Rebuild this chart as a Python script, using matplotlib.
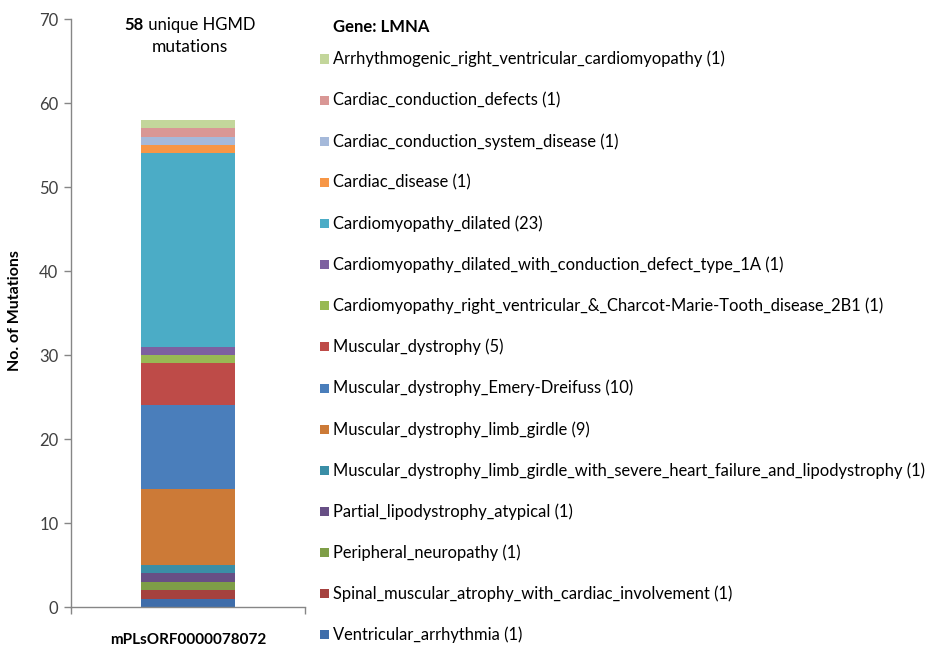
import matplotlib
matplotlib.use("Agg")
import matplotlib.pyplot as plt
from matplotlib.patches import Rectangle

plt.rcParams['font.family'] = ['Lato', 'DejaVu Sans']

gene = "LMNA"
sample = "mPLsORF0000078072"
total_label = "58"

# Diseases in legend order (top to bottom); the stack is drawn bottom-up from the end of the list
diseases = [
    "Arrhythmogenic_right_ventricular_cardiomyopathy",
    "Cardiac_conduction_defects",
    "Cardiac_conduction_system_disease",
    "Cardiac_disease",
    "Cardiomyopathy_dilated",
    "Cardiomyopathy_dilated_with_conduction_defect_type_1A",
    "Cardiomyopathy_right_ventricular_&_Charcot-Marie-Tooth_disease_2B1",
    "Muscular_dystrophy",
    "Muscular_dystrophy_Emery-Dreifuss",
    "Muscular_dystrophy_limb_girdle",
    "Muscular_dystrophy_limb_girdle_with_severe_heart_failure_and_lipodystrophy",
    "Partial_lipodystrophy_atypical",
    "Peripheral_neuropathy",
    "Spinal_muscular_atrophy_with_cardiac_involvement",
    "Ventricular_arrhythmia",
]
counts = [1, 1, 1, 1, 23, 1, 1, 5, 10, 9, 1, 1, 1, 1, 1]
colors = [
    "#C3D69B", "#D99795", "#A5B9DA", "#F79646", "#4BACC6",
    "#7D60A0", "#98B954", "#BE4B48", "#4A7EBB", "#CC7A37",
    "#3A8EA6", "#674F85", "#7E9E47", "#A5413E", "#3F6DAA",
]
yticks = [0, 10, 20, 30, 40, 50, 60, 70]

W, H = 929, 646
fig = plt.figure(figsize=(W / 100, H / 100), dpi=100)
ax = fig.add_axes([71 / W, 1 - 607 / H, 234 / W, 588 / H])

axis_color = "#868686"
text_color = "#404040"

bottom = 0
for name, c, col in zip(diseases[::-1], counts[::-1], colors[::-1]):
    ax.bar(0, c, width=0.40, bottom=bottom, color=col, edgecolor="none")
    bottom += c

ax.set_xlim(-0.5, 0.5)
ax.set_ylim(0, 70)
ax.set_yticks(yticks)
ax.set_yticklabels([str(v) for v in yticks], fontsize=12, color=text_color)
ax.set_xticks([-0.5, 0.5])
ax.set_xticklabels([])
for s in ["top", "right"]:
    ax.spines[s].set_visible(False)
for s in ["left", "bottom"]:
    ax.spines[s].set_color(axis_color)
    ax.spines[s].set_linewidth(1.0)
ax.tick_params(axis="both", direction="out", length=5, color=axis_color, width=1.0, pad=4)

ax.text(0, -0.045, sample, transform=ax.get_xaxis_transform(), ha="center", va="top",
        fontsize=11, fontweight="bold", color="black")
fig.text(15 / W, 1 - 311 / H, "No. of Mutations", rotation=90, ha="center", va="center",
         fontsize=11.5, fontweight="bold", color="black")

# Two-line heading with the total in bold
fig.canvas.draw()
r = fig.canvas.get_renderer()
t_num = fig.text(0, 1 - 25 / H, total_label, ha="left", va="center", fontsize=12,
                 fontweight="bold", color="black")
t_rest = fig.text(0, 1 - 25 / H, " unique HGMD", ha="left", va="center", fontsize=12,
                  color="black")
w_num = t_num.get_window_extent(r).width
w_rest = t_rest.get_window_extent(r).width
cx = 190
x0 = cx - (w_num + w_rest) / 2
t_num.set_x(x0 / W)
t_rest.set_x((x0 + w_num) / W)
fig.text(cx / W, 1 - 47 / H, "mutations", ha="center", va="center", fontsize=12.5, color="black")

# Legend
fig.text(333 / W, 1 - 27 / H, "Gene: " + gene, ha="left", va="center", fontsize=12,
         fontweight="bold", color="black")
y0, dy = 59, 41.14
for i, (name, c, col) in enumerate(zip(diseases, counts, colors)):
    yc = y0 + i * dy
    fig.patches.append(Rectangle(((320) / W, 1 - (yc + 4.5) / H), 9 / W, 9 / H,
                                 transform=fig.transFigure, facecolor=col, edgecolor="none"))
    fig.text(333 / W, 1 - yc / H, f"{name} ({c})", ha="left", va="center",
             fontsize=11.9, color="black")

fig.savefig("out.png", dpi=100)
